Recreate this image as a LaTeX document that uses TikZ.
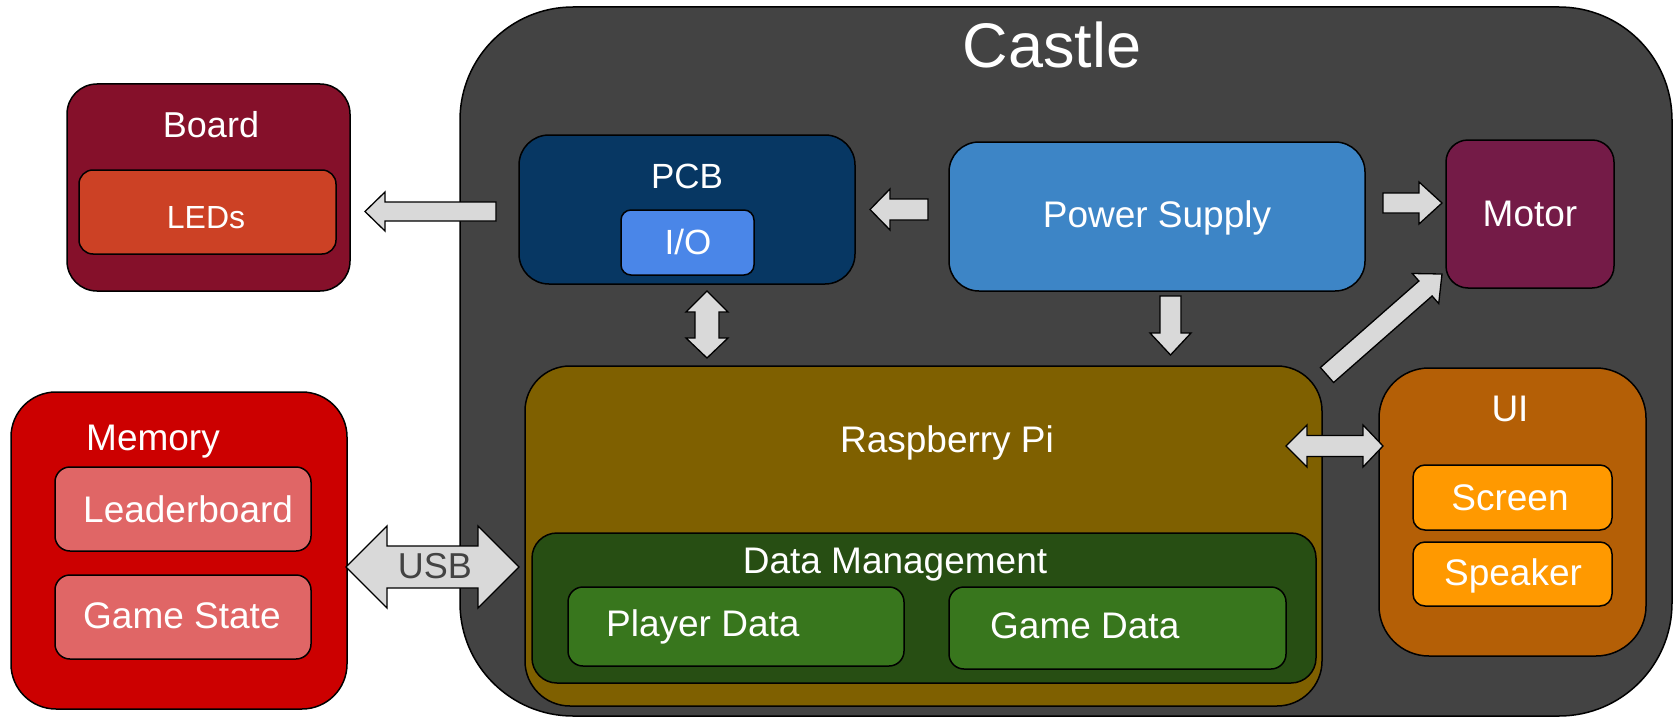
\documentclass[tikz,border=0pt]{standalone}
\usepackage{fontspec}
\setmainfont{Liberation Sans}
\definecolor{castlegray}{HTML}{434343}
\definecolor{boardc}{HTML}{85102A}
\definecolor{ledc}{HTML}{CC4125}
\definecolor{memc}{HTML}{CC0000}
\definecolor{memin}{HTML}{E06666}
\definecolor{pcbc}{HTML}{073763}
\definecolor{ioc}{HTML}{4A86E8}
\definecolor{psc}{HTML}{3D85C6}
\definecolor{motorc}{HTML}{741B47}
\definecolor{rpc}{HTML}{7F6000}
\definecolor{dmc}{HTML}{274E13}
\definecolor{dmin}{HTML}{38761D}
\definecolor{uic}{HTML}{B45F06}
\definecolor{uiin}{HTML}{FF9900}
\definecolor{arrowgray}{HTML}{D9D9D9}
\tikzset{
  box/.style={draw=black, line width=1.5pt, inner sep=0pt, outer sep=0pt},
  txt/.style={text=white, inner sep=0pt, font=\fontsize{37}{44}\selectfont},
  blk/.style={draw=black, line width=1.3pt, fill=arrowgray, line join=miter},
}
\begin{document}
\begin{tikzpicture}[x=1pt, y=-1pt]
\useasboundingbox (0,0) rectangle (1679,717);

% Castle
\node[box, fill=castlegray, minimum width=1212pt, minimum height=709pt, rounded corners=113pt] (castle) at (1066,361.5) {};
\node[txt, anchor=base, font=\fontsize{63}{70}\selectfont] (castlet) at (1052,67) {Castle};

% Board
\node[box, fill=boardc, minimum width=283pt, minimum height=207pt, rounded corners=30pt] (board) at (208.5,187.5) {};
\node[txt, anchor=base, font=\fontsize{36}{42}\selectfont] (boardt) at (211,137) {Board};
\node[box, fill=ledc, minimum width=257pt, minimum height=84pt, rounded corners=14pt] (leds) at (207.5,212) {};
\node[txt, anchor=base, font=\fontsize{32}{38}\selectfont] (ledst) at (206,228) {LEDs};

% Memory
\node[box, fill=memc, minimum width=336pt, minimum height=317pt, rounded corners=45pt] (memory) at (179,550.5) {};
\node[txt, anchor=base west] (memoryt) at (86,450) {Memory};
\node[box, fill=memin, minimum width=256pt, minimum height=84pt, rounded corners=15pt] (leader) at (183,509) {};
\node[txt, anchor=base west] (leadert) at (83,522) {Leaderboard};
\node[box, fill=memin, minimum width=256pt, minimum height=84pt, rounded corners=15pt] (gstate) at (183,617) {};
\node[txt, anchor=base west] (gstatet) at (83,628) {Game State};

% PCB
\node[box, fill=pcbc, minimum width=336pt, minimum height=149pt, rounded corners=30pt] (pcb) at (687,209.5) {};
\node[txt, anchor=base, font=\fontsize{35}{42}\selectfont] (pcbt) at (687,188) {PCB};
\node[box, fill=ioc, minimum width=133pt, minimum height=65pt, rounded corners=10pt] (io) at (687.5,242.5) {};
\node[txt, anchor=base, font=\fontsize{35}{42}\selectfont] (iot) at (688,254) {I/O};

% Power supply
\node[box, fill=psc, minimum width=416pt, minimum height=149pt, rounded corners=30pt] (ps) at (1157,216.5) {};
\node[txt, anchor=base] (pst) at (1157,227) {Power Supply};

% Motor
\node[box, fill=motorc, minimum width=168pt, minimum height=148pt, rounded corners=22pt] (motor) at (1530,214) {};
\node[txt, anchor=base] (motort) at (1530,226) {Motor};

% Raspberry Pi
\node[box, fill=rpc, minimum width=797pt, minimum height=340pt, rounded corners=45pt] (rp) at (923.5,536) {};
\node[txt, anchor=base] (rpt) at (947,452) {Raspberry Pi};
\node[box, fill=dmc, minimum width=784pt, minimum height=150pt, rounded corners=25pt] (dm) at (924,608) {};
\node[txt, anchor=base] (dmt) at (895,573) {Data Management};
\node[box, fill=dmin, minimum width=336pt, minimum height=79pt, rounded corners=15pt] (pd) at (736,626.5) {};
\node[txt, anchor=base west] (pdt) at (606,636) {Player Data};
\node[box, fill=dmin, minimum width=337pt, minimum height=82pt, rounded corners=15pt] (gd) at (1117.5,628) {};
\node[txt, anchor=base west] (gdt) at (990,638) {Game Data};

% UI
\node[box, fill=uic, minimum width=267pt, minimum height=288pt, rounded corners=50pt] (ui) at (1512.5,512) {};
\node[txt, anchor=base] (uit) at (1510,421) {UI};
\node[box, fill=uiin, minimum width=199pt, minimum height=65pt, rounded corners=12pt] (screen) at (1512.5,497.5) {};
\node[txt, anchor=base] (screent) at (1510,510) {Screen};
\node[box, fill=uiin, minimum width=199pt, minimum height=64pt, rounded corners=12pt] (speaker) at (1512.5,574) {};
\node[txt, anchor=base] (speakert) at (1513,585) {Speaker};

% Block arrows
\draw[blk] (496,202) -- (385,202) -- (385,192) -- (365,211.5) -- (385,231) -- (385,221) -- (496,221) -- cycle;
\draw[blk] (928,199) -- (890,199) -- (890,189) -- (870,209.5) -- (890,230) -- (890,220) -- (928,220) -- cycle;
\draw[blk] (1383,193) -- (1419,193) -- (1419,182) -- (1442,203) -- (1419,224) -- (1419,213) -- (1383,213) -- cycle;
\draw[blk] (1160,296) -- (1160,333) -- (1150,333) -- (1170.5,355) -- (1191,333) -- (1181,333) -- (1181,296) -- cycle;
\draw[blk] (707,291) -- (728,312) -- (719,312) -- (719,338) -- (728,338) -- (707,358) -- (686,338) -- (695,338) -- (695,312) -- (686,312) -- cycle;
\draw[blk] (1286,446) -- (1307,425) -- (1307,435.5) -- (1363,435.5) -- (1363,425) -- (1383,446) -- (1363,467) -- (1363,456.5) -- (1307,456.5) -- (1307,467) -- cycle;
\draw[blk] (346,567) -- (387,526) -- (387,546) -- (478,546) -- (478,526) -- (519,567) -- (478,608) -- (478,588) -- (387,588) -- (387,608) -- cycle;
\draw[blk] (1333.6,382.5) -- (1432.1,296.0) -- (1438.7,303.5) -- (1442,274) -- (1412.3,273.5) -- (1418.9,281.0) -- (1320.4,367.5) -- cycle;
\node[txt, anchor=base, text=castlegray, font=\fontsize{36}{42}\selectfont] (usbt) at (435,578) {USB};
\end{tikzpicture}
\end{document}
